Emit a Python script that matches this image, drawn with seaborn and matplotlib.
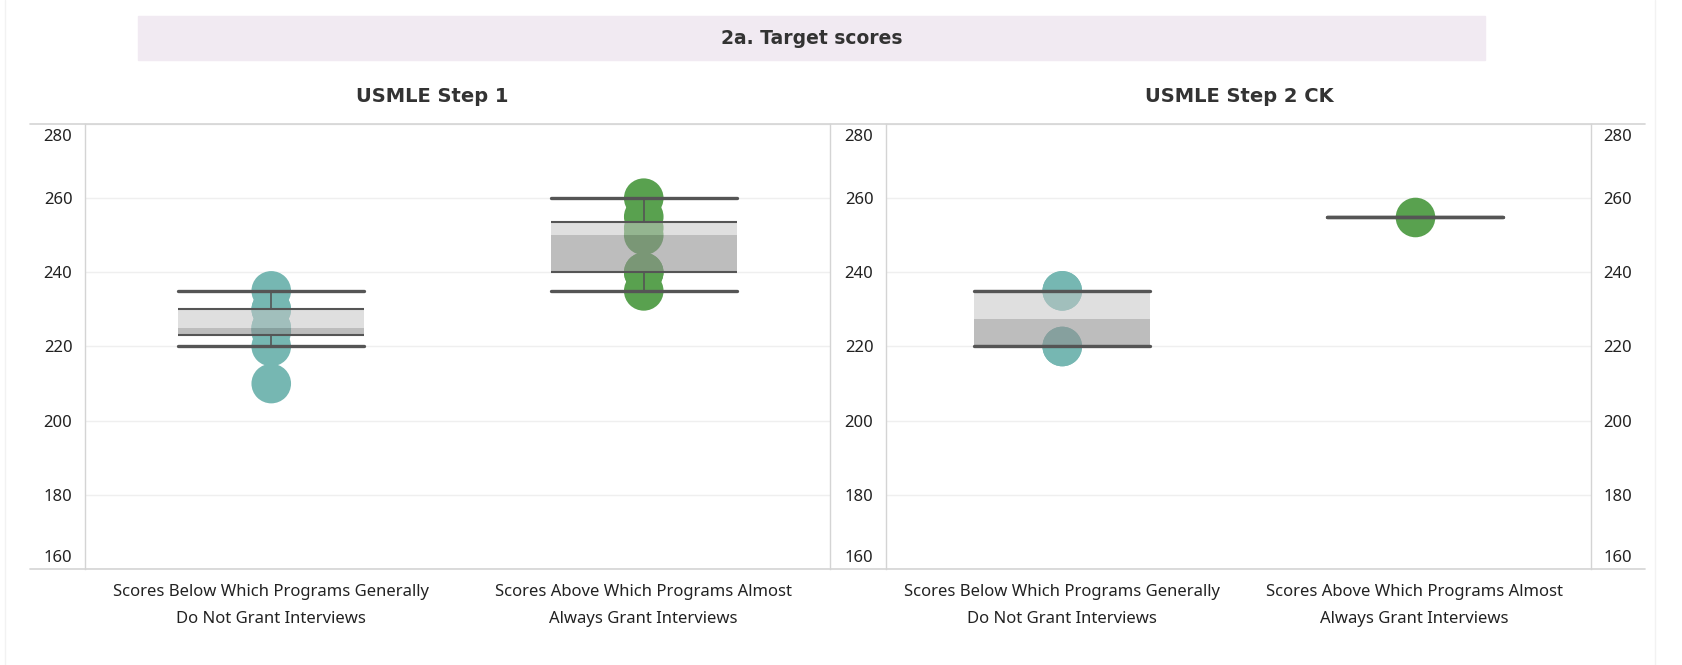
import numpy as np
import pandas as pd
import matplotlib.pyplot as plt
from matplotlib.lines import Line2D
from matplotlib.patches import Rectangle
from matplotlib.transforms import ScaledTranslation
import seaborn as sns

# values
categories = ["Scores Below Which Programs Generally\nDo Not Grant Interviews",
              "Scores Above Which Programs Almost\nAlways Grant Interviews"]
step1_below = [210, 220, 224, 225, 225, 230, 230, 235]
step1_above = [235, 240, 240, 250, 252, 255, 260]
step2_below = [220, 220, 235, 235]
step2_above = [255]
panel_titles = ["USMLE Step 1", "USMLE Step 2 CK"]
y_ticks = [160, 180, 200, 220, 240, 260, 280]

teal = "#76B7B2"
green = "#59A14F"
line_col = "#555555"
frame_col = "#d4d4d4"

sns.set_style("white")
plt.rcParams["font.family"] = ["Noto Sans", "DejaVu Sans"]
bold_font = ["DejaVu Sans"]

W, H = 1683, 665
fig = plt.figure(figsize=(W / 100, H / 100), dpi=100)

# header band
fig.patches.append(Rectangle((138 / W, 1 - 60 / H), (1485 - 138) / W, 44 / H,
                             transform=fig.transFigure, color="#F1EAF2", zorder=0))
fig.text(812 / W, 1 - 39 / H, "2a. Target scores", ha="center", va="center",
         fontsize=13.5, fontweight="bold", family=bold_font, color="#333333")

ax1 = fig.add_axes([85 / W, 1 - 569 / H, 745 / W, 445 / H])
ax2 = fig.add_axes([886 / W, 1 - 569 / H, 705 / W, 445 / H])

panels = [(ax1, step1_below, step1_above, 432),
          (ax2, step2_below, step2_above, 1239)]

for (ax, below, above, tx), title in zip(panels, panel_titles):
    df = pd.DataFrame({
        "group": [categories[0]] * len(below) + [categories[1]] * len(above),
        "score": below + above,
    })

    sns.stripplot(data=df, x="group", y="score", hue="group", order=categories,
                  hue_order=categories, palette=[teal, green], jitter=False,
                  size=28.5, linewidth=0, legend=False, zorder=2, ax=ax)

    sns.boxplot(data=df, x="group", y="score", order=categories, width=0.5,
                whis=1.5, showfliers=False,
                boxprops=dict(facecolor="none", edgecolor="none", linewidth=0),
                whiskerprops=dict(color=line_col, linewidth=1.2),
                capprops=dict(color=line_col, linewidth=2.4),
                medianprops=dict(alpha=0),
                capwidths=0.5, zorder=4, ax=ax)

    # two-tone box bands (median split), as in the original
    for i, vals in enumerate([below, above]):
        q1, med, q3 = np.percentile(vals, [25, 50, 75])
        ax.bar(i, q3 - med, bottom=med, width=0.5, color="#c6c6c6",
               alpha=0.55, linewidth=0, zorder=3)
        ax.bar(i, med - q1, bottom=q1, width=0.5, color="#919191",
               alpha=0.6, linewidth=0, zorder=3)
        ax.hlines([q1, q3], i - 0.25, i + 0.25, color=line_col,
                  linewidth=1.5, zorder=4)

    ax.set_xlim(-0.5, 1.5)
    ax.set_ylim(160, 280)
    ax.set_yticks(y_ticks)
    ax.set_xticks([0, 1], labels=categories)
    ax.set_xticks([-0.5, 0.5, 1.5], minor=True)
    ax.set_xlabel("")
    ax.set_ylabel("")
    ax.yaxis.grid(True, color="#efefef", linewidth=1)
    ax.set_axisbelow(True)
    ax.tick_params(axis="x", which="major", length=0, pad=11,
                   labelsize=12, labelcolor="#222222")
    ax.tick_params(axis="x", which="minor", length=6, color="#ececec", width=1)
    ax.tick_params(axis="y", length=0, pad=9, labelsize=12, labelcolor="#222222")
    for lab in ax.get_xticklabels():
        lab.set_linespacing(1.9)

    for side in ["top", "bottom"]:
        ax.spines[side].set_visible(False)
    for side in ["left", "right"]:
        ax.spines[side].set_color(frame_col)
        ax.spines[side].set_linewidth(1)

    fig.text(tx / W, 1 - 96 / H, title, ha="center", va="center",
             fontsize=14, fontweight="bold", family=bold_font, color="#333333")

ax2.tick_params(axis="y", labelleft=True, labelright=True)

# keep the end labels inside the frame, nudged a little like the original
down = ScaledTranslation(0, -5 / 100, fig.dpi_scale_trans)
up = ScaledTranslation(0, 3 / 100, fig.dpi_scale_trans)
for ax in [ax1, ax2]:
    for tick, v in zip(ax.yaxis.get_major_ticks(), y_ticks):
        for lab in [tick.label1, tick.label2]:
            if v == y_ticks[-1]:
                lab.set_va("top")
                lab.set_transform(lab.get_transform() + down)
            elif v == y_ticks[0]:
                lab.set_va("bottom")
                lab.set_transform(lab.get_transform() + up)

# pane borders across the whole width
for y in [124, 569]:
    fig.add_artist(Line2D([30 / W, 1645 / W], [1 - y / H, 1 - y / H],
                          color=frame_col, linewidth=1.2))
for x in [5, 1655]:
    fig.add_artist(Line2D([x / W, x / W], [0, 1], color="#f2f2f2", linewidth=1))

fig.savefig("out.png", dpi=100)
